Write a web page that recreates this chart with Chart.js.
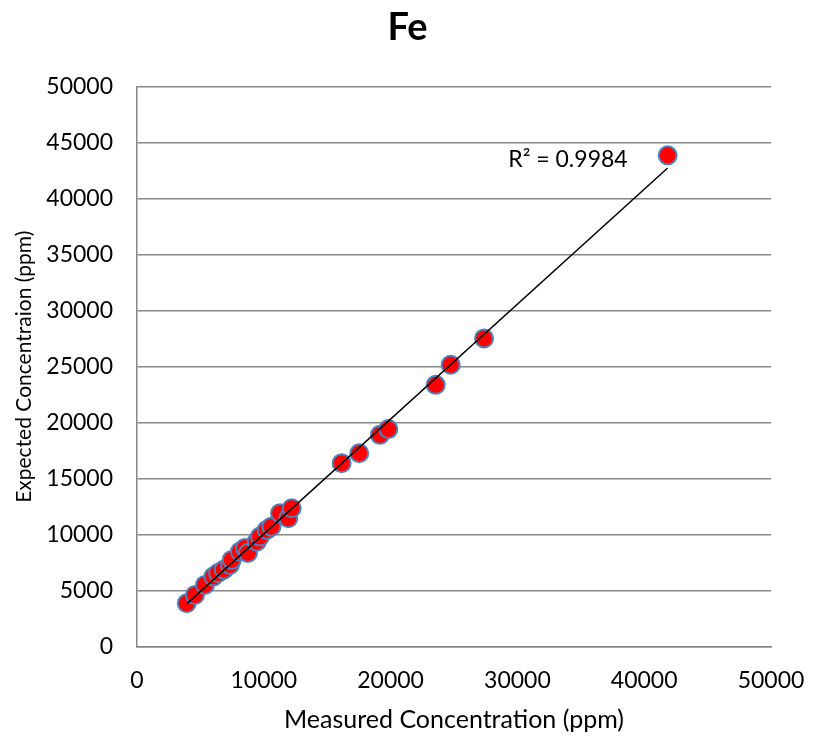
<!DOCTYPE html>
<html>
<head>
<meta charset="utf-8">
<script src="https://cdn.jsdelivr.net/npm/chart.js@4.4.1/dist/chart.umd.min.js"></script>
<style>
  html, body { margin: 0; padding: 0; background: #ffffff; }
  #wrap { width: 815px; height: 742px; }
</style>
</head>
<body>
<div id="wrap"><canvas id="c" width="815" height="742"></canvas></div>
<script>
const chartTitle = "Fe";
const xTitle = "Measured Concentration (ppm)";
const yTitle = "Expected Concentraion (ppm)";
const r2Label = "R\u00B2 = 0.9984";

const measured = [3920, 4570, 5360, 6020, 6390, 6850, 7330, 7470, 8120, 8520, 8750, 9440, 9700, 10230, 10600, 11280, 11930, 12200, 16140, 17530, 19160, 19820, 23560, 24740, 27370, 41850];
const expected = [3900, 4640, 5540, 6280, 6600, 6900, 7320, 7770, 8510, 8840, 8390, 9400, 9850, 10450, 10740, 11940, 11490, 12380, 16400, 17290, 18930, 19440, 23390, 25180, 27530, 43870];

const axisMin = 0, axisMax = 50000, xStep = 10000, yStep = 5000;

// least squares trendline
const n = measured.length;
const mx = measured.reduce((a, b) => a + b, 0) / n;
const my = expected.reduce((a, b) => a + b, 0) / n;
let sxy = 0, sxx = 0;
for (let i = 0; i < n; i++) { sxy += (measured[i] - mx) * (expected[i] - my); sxx += (measured[i] - mx) ** 2; }
const slope = sxy / sxx, intercept = my - slope * mx;
const xLo = Math.min(...measured), xHi = Math.max(...measured);
const trend = [{x: xLo, y: slope * xLo + intercept}, {x: xHi, y: slope * xHi + intercept}];

const points = measured.map((v, i) => ({x: v, y: expected[i]}));

const FONT = "Lato, 'Open Sans', 'DejaVu Sans', sans-serif";
const plainTick = (v) => String(v);

const r2Plugin = {
  id: 'r2',
  afterDatasetsDraw(chart) {
    const ctx = chart.ctx;
    const topPt = chart.getDatasetMeta(0).data[points.length - 1];
    ctx.save();
    ctx.font = "23px " + FONT;
    ctx.fillStyle = "#000";
    ctx.textAlign = "right";
    ctx.textBaseline = "middle";
    ctx.fillText(r2Label, topPt.x - 40, topPt.y + 4);
    ctx.restore();
  }
};

new Chart(document.getElementById('c'), {
  type: 'scatter',
  data: {
    datasets: [
      {
        label: 'Fe',
        data: points,
        backgroundColor: '#FF0000',
        borderColor: '#4F81BD',
        borderWidth: 2,
        pointRadius: 9,
        pointHoverRadius: 9,
        order: 2
      },
      {
        label: 'Trend',
        type: 'line',
        data: trend,
        borderColor: '#000000',
        borderWidth: 1.5,
        pointRadius: 0,
        fill: false,
        order: 1
      }
    ]
  },
  options: {
    responsive: false,
    animation: false,
    devicePixelRatio: 1,
    layout: { padding: 0 },
    plugins: {
      legend: { display: false },
      tooltip: { enabled: false },
      title: {
        display: true,
        text: chartTitle,
        color: '#000',
        font: { family: FONT, size: 38, weight: 'bold' },
        padding: { top: 5, bottom: 36 }
      }
    },
    scales: {
      x: {
        type: 'linear',
        min: axisMin, max: axisMax,
        ticks: { stepSize: xStep, callback: plainTick, color: '#000', font: { family: FONT, size: 23 }, padding: 20, maxRotation: 0 },
        grid: { display: false, drawTicks: false },
        border: { display: true, color: '#868686', width: 1.5 },
        title: { display: true, text: xTitle, color: '#000', font: { family: FONT, size: 25 }, padding: { top: 0, bottom: 7 } },
        afterFit(scale) { scale.height = 95; scale.paddingRight = 0; scale.paddingLeft = 0; }
      },
      y: {
        type: 'linear',
        min: axisMin, max: axisMax,
        ticks: { stepSize: yStep, callback: plainTick, color: '#000', font: { family: FONT, size: 23 }, padding: 24 },
        grid: { color: '#868686', lineWidth: 1.5, drawTicks: false },
        border: { display: true, color: '#868686', width: 1.5 },
        title: { display: true, text: yTitle, color: '#000', font: { family: FONT, size: 21 }, padding: { top: 12, bottom: 0 } },
        afterFit(scale) { scale.width = 137; }
      },
      yRight: {
        type: 'linear',
        position: 'right',
        display: true,
        min: axisMin, max: axisMax,
        ticks: { display: false },
        grid: { display: false, drawTicks: false },
        border: { display: false },
        afterFit(scale) { scale.width = 44; }
      }
    }
  },
  plugins: [r2Plugin]
});
</script>
</body>
</html>
